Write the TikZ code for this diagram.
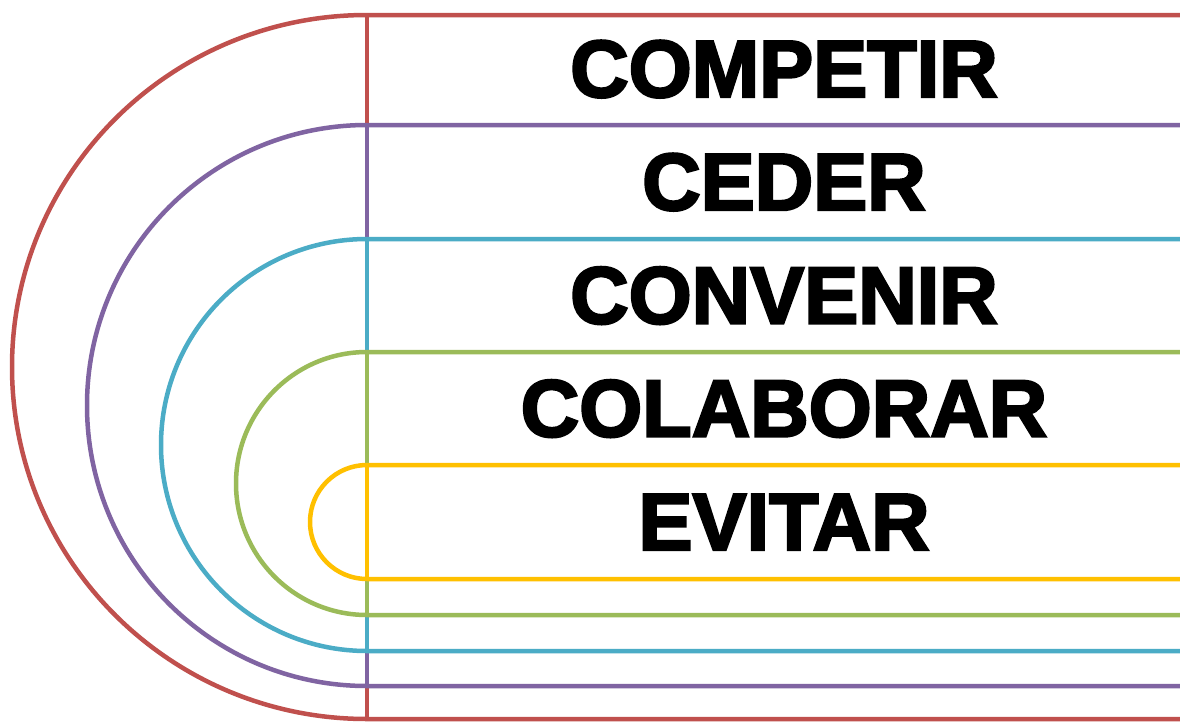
\documentclass[tikz,border=0pt]{standalone}
\usepackage{fontspec}
\setmainfont{Liberation Sans}[BoldFeatures={FakeBold=3}]
\definecolor{cred}{HTML}{C0504D}
\definecolor{cpurple}{HTML}{8064A2}
\definecolor{cteal}{HTML}{4BACC6}
\definecolor{cgreen}{HTML}{9BBB59}
\definecolor{cyellow}{HTML}{FFC000}
\tikzset{
  band/.style={line width=4.5pt},
  label/.style={anchor=base, inner sep=0pt, font=\fontsize{81}{81}\selectfont\bfseries, text=black}
}
\newcommand{\ushape}[5]{% color, top, bottom, xr, yr
  \draw[band,#1] (1190,#2) -- (367,#2)
    arc[start angle=270, end angle=90, x radius=#4, y radius=#5] -- (1190,#3);
  \draw[band,#1] (367,#2) -- (367,#3);
}
\begin{document}
\begin{tikzpicture}[x=1pt,y=-1pt]
\useasboundingbox (0,0) rectangle (1180,723);
\clip (0,0) rectangle (1180,723);
\fill[white] (0,0) rectangle (1180,723);
\ushape{cred}{15}{719}{355}{352}
\ushape{cpurple}{125}{686}{280}{280.5}
\ushape{cteal}{239}{651}{206}{206}
\ushape{cgreen}{352}{615}{131}{131.5}
\ushape{cyellow}{465}{579}{57}{57}
\node[label] (competir) at (784,97) {COMPETIR};
\node[label] (ceder) at (784,210) {CEDER};
\node[label] (convenir) at (784,323.5) {CONVENIR};
\node[label] (colaborar) at (784,436.5) {COLABORAR};
\node[label] (evitar) at (784,550) {EVITAR};
\end{tikzpicture}
\end{document}
